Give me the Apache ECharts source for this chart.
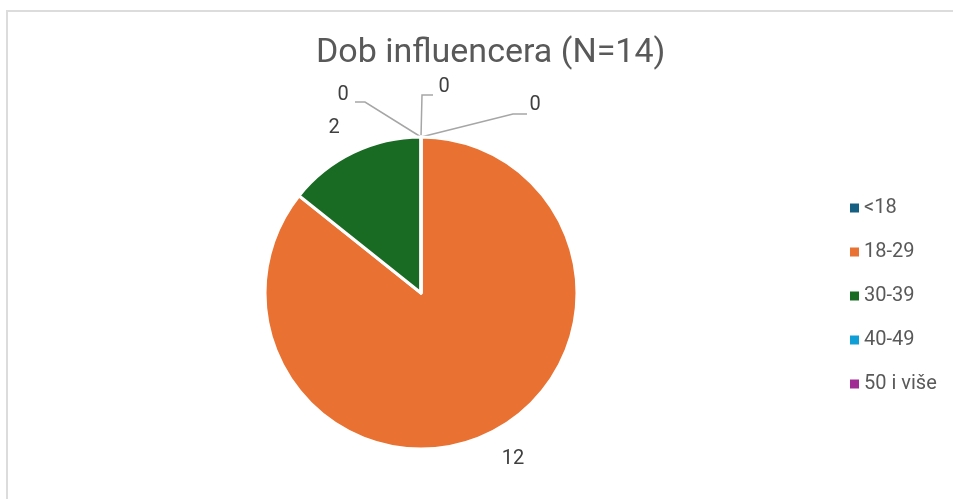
<!DOCTYPE html>
<html>
<head>
<meta charset="utf-8">
<script src="https://cdn.jsdelivr.net/npm/echarts@6/dist/echarts.min.js"></script>
<style>
  html, body { margin: 0; padding: 0; background: #fff; }
  #chart { width: 953px; height: 499px; }
</style>
</head>
<body>
<div id="chart"></div>
<script>
const categories = ['<18', '18-29', '30-39', '40-49', '50 i više'];
const counts = [0, 12, 2, 0, 0];
const colors = ['#156082', '#E97132', '#196B24', '#0F9ED5', '#A02B93'];

const FONT = 'Roboto, "Liberation Sans", sans-serif';
const TEXT = '#595959';

// pie geometry
const cx = 421;
const cy = 293;
const r = 156;
const topY = cy - r;

// label placement relative to the top of the pie (zero slices sit there)
const labelSpots = {
  0: { x: cx + 114, y: topY - 32, line: [[cx, topY], [cx + 92, topY - 23], [cx + 106, topY - 23]] },
  1: { x: 513, y: 459 },
  2: { x: 334, y: 128 },
  3: { x: cx + 23, y: topY - 50, line: [[cx, topY], [cx + 1, topY - 42], [cx + 12, topY - 42]] },
  4: { x: cx - 78, y: topY - 42, line: [[cx, topY], [cx - 56, topY - 35], [cx - 66, topY - 35]] },
};

const chart = echarts.init(document.getElementById('chart'));

chart.setOption({
  animation: false,
  color: colors,
  title: {
    text: 'Dob influencera (N=14)',
    left: 311,
    top: 31,
    textStyle: {
      fontFamily: FONT,
      fontSize: 34,
      fontWeight: 400,
      color: TEXT,
    },
  },
  legend: {
    orient: 'vertical',
    left: 845,
    top: 192,
    itemWidth: 9,
    itemHeight: 9,
    itemGap: 22,
    itemStyle: { borderWidth: 0 },
    icon: 'rect',
    data: categories,
    textStyle: {
      fontFamily: FONT,
      fontSize: 20,
      lineHeight: 22,
      color: TEXT,
    },
  },
  graphic: [
    {
      type: 'polyline',
      shape: { points: [[7, 499], [7, 11], [953, 11]] },
      style: { stroke: '#dcdcdc', lineWidth: 2, fill: null },
      silent: true,
    },
  ],
  series: [
    {
      type: 'pie',
      center: [cx, cy],
      radius: r,
      startAngle: 90,
      clockwise: true,
      avoidLabelOverlap: false,
      itemStyle: {
        borderColor: '#fff',
        borderWidth: 3,
      },
      label: {
        show: true,
        position: 'outside',
        formatter: '{c}',
        fontFamily: FONT,
        fontSize: 20,
        color: '#404040',
      },
      labelLine: {
        show: true,
        lineStyle: { color: '#a6a6a6', width: 1.5 },
      },
      labelLayout: (params) => {
        const spot = labelSpots[params.dataIndex];
        const out = { x: spot.x, y: spot.y, align: 'center', verticalAlign: 'middle' };
        if (spot.line) out.labelLinePoints = spot.line;
        return out;
      },
      data: categories.map((name, i) => ({
        name,
        value: counts[i],
        labelLine: { show: counts[i] === 0 },
      })),
    },
  ],
});
</script>
</body>
</html>
